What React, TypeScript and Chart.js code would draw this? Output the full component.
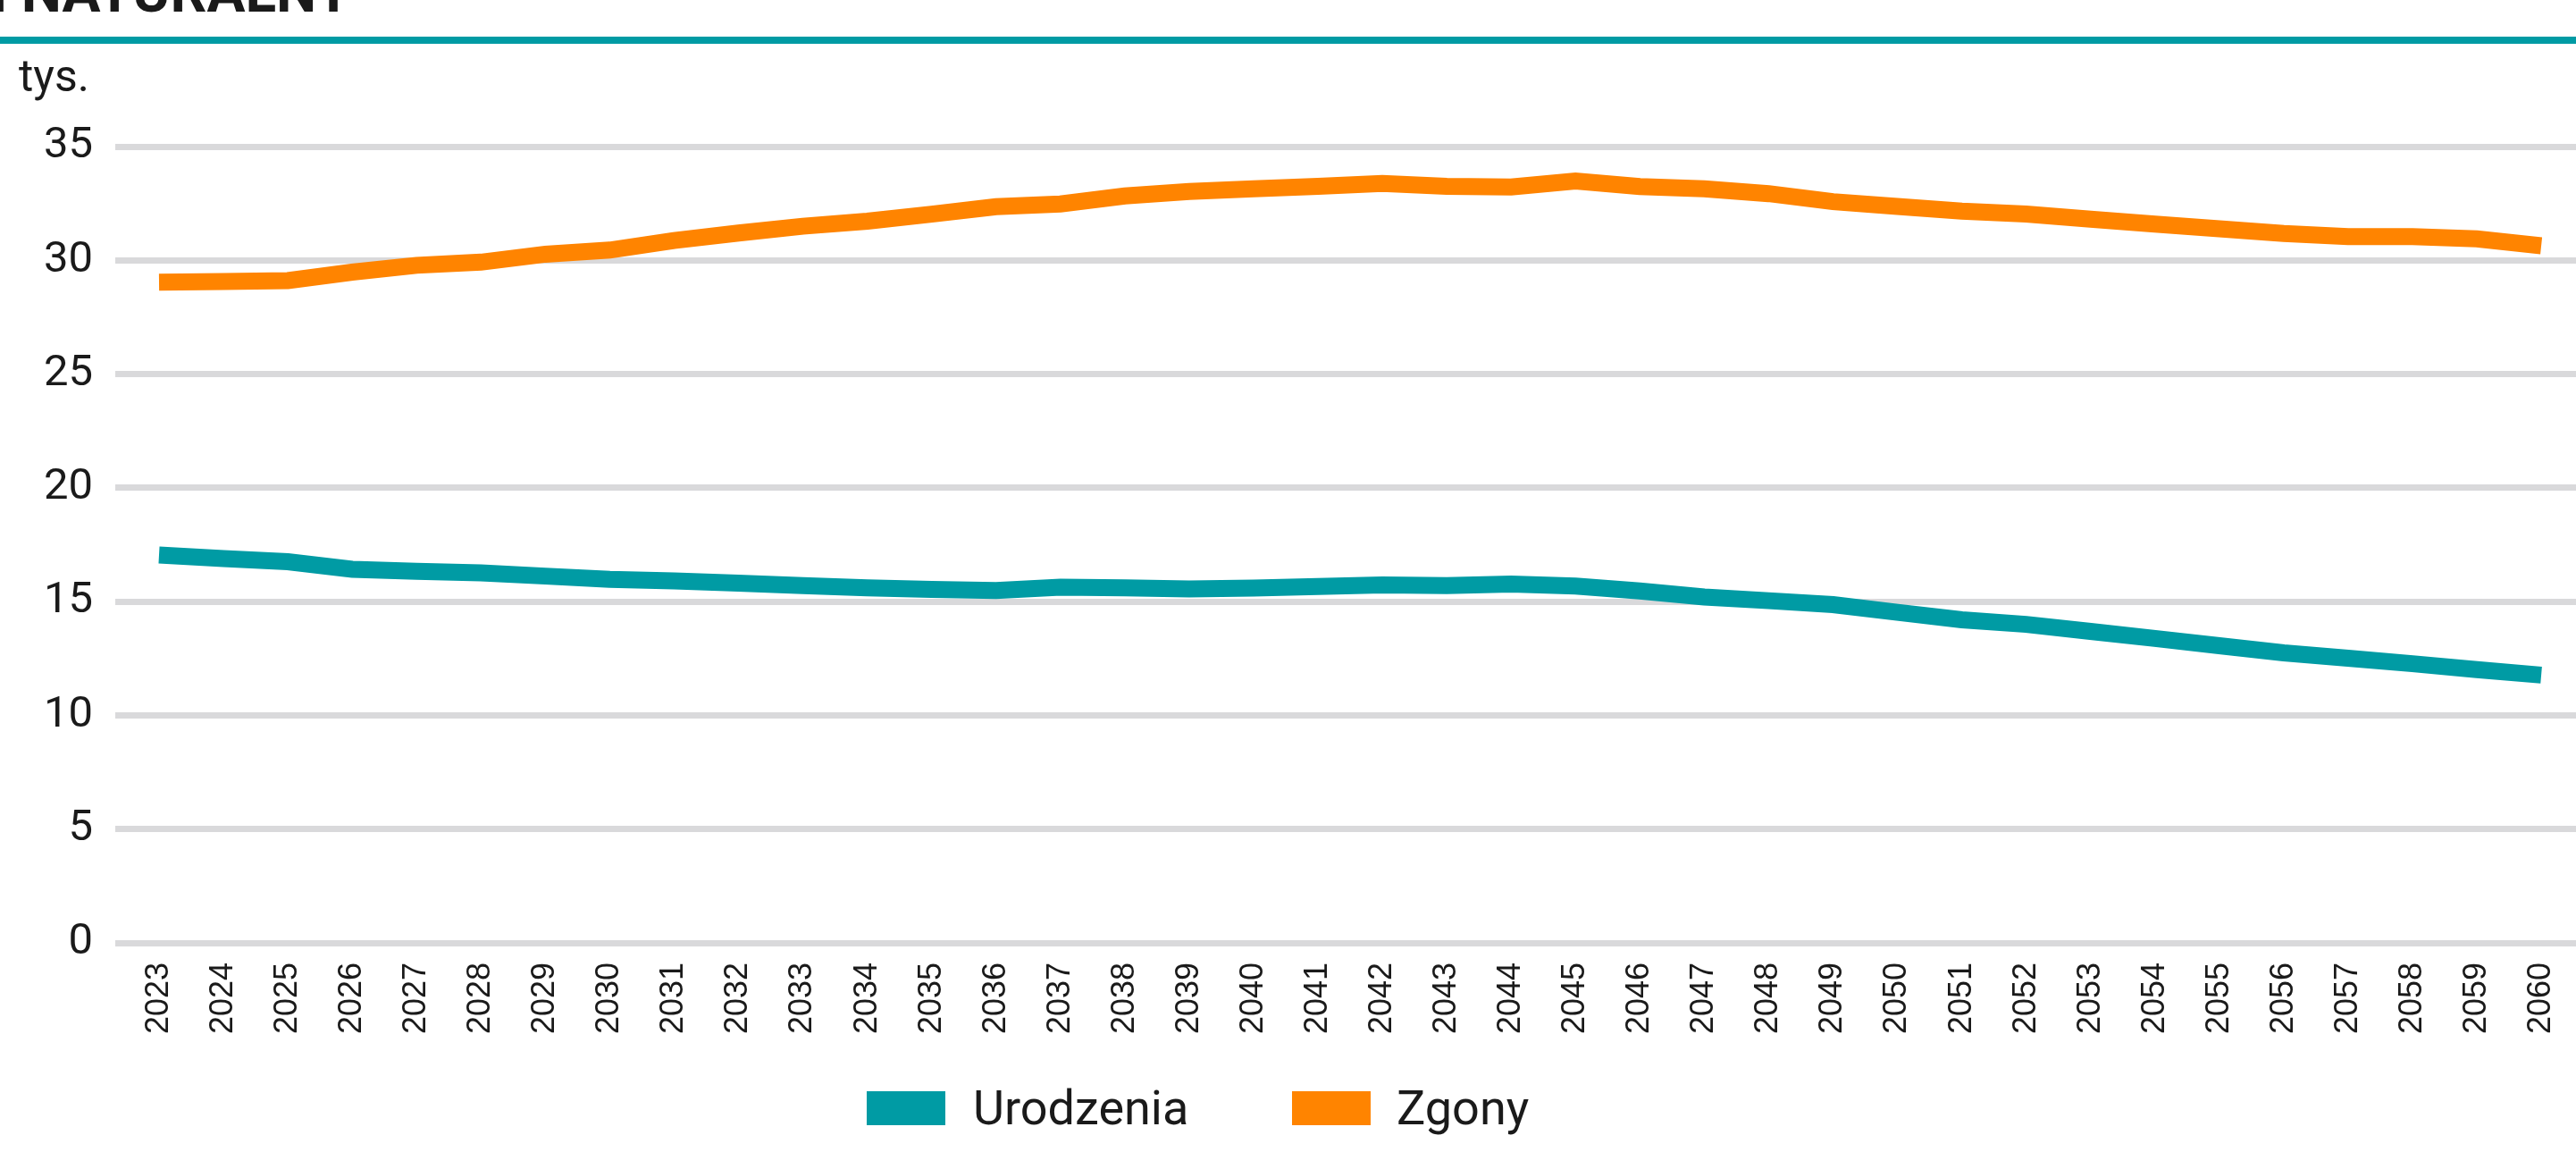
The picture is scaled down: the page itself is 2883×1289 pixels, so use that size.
import { useEffect, useRef } from 'react';
import { Chart, registerables } from 'chart.js';

Chart.register(...registerables);

const years = [
  2023, 2024, 2025, 2026, 2027, 2028, 2029, 2030, 2031, 2032,
  2033, 2034, 2035, 2036, 2037, 2038, 2039, 2040, 2041, 2042,
  2043, 2044, 2045, 2046, 2047, 2048, 2049, 2050, 2051, 2052,
  2053, 2054, 2055, 2056, 2057, 2058, 2059, 2060,
];

// Urodzenia (births), thousands
const births = [
  17.05, 16.89, 16.75, 16.42, 16.33, 16.26, 16.12, 15.98, 15.91, 15.81,
  15.70, 15.60, 15.54, 15.49, 15.63, 15.60, 15.56, 15.59, 15.66, 15.73,
  15.70, 15.77, 15.68, 15.47, 15.20, 15.04, 14.87, 14.53, 14.20, 14.00,
  13.69, 13.38, 13.06, 12.75, 12.51, 12.27, 12.01, 11.77,
];

// Zgony (deaths), thousands
const deaths = [
  29.04, 29.07, 29.11, 29.48, 29.78, 29.92, 30.27, 30.45, 30.87, 31.20,
  31.50, 31.72, 32.03, 32.36, 32.48, 32.83, 33.03, 33.14, 33.25, 33.38,
  33.25, 33.22, 33.49, 33.24, 33.14, 32.93, 32.58, 32.37, 32.16, 32.03,
  31.81, 31.59, 31.39, 31.18, 31.04, 31.04, 30.94, 30.64,
];

const yTicks = [0, 5, 10, 15, 20, 25, 30, 35];
const seriesNames = ['Urodzenia', 'Zgony'];
const seriesColors = ['#009ba4', '#ff8400'];
const titleText = 'RUCH NATURALNY';
const unitText = 'tys.';

const legendBoxLeft = [970, 1446];
const legendTextLeft = [1089, 1563];

export default function App() {
  const ref = useRef<HTMLCanvasElement | null>(null);

  useEffect(() => {
    document.body.style.margin = '0';
    document.body.style.overflow = 'hidden';
    const canvas = ref.current;
    if (!canvas) return;
    const series = [births, deaths];
    const chart = new Chart(canvas, {
      type: 'line',
      data: {
        datasets: series.map((vals, si) => ({
          label: seriesNames[si],
          data: years.map((x, i) => ({ x, y: vals[i] })),
          borderColor: seriesColors[si],
          backgroundColor: seriesColors[si],
          borderWidth: 19,
          pointRadius: 0,
          pointHoverRadius: 0,
          tension: 0,
          fill: false,
          borderCapStyle: 'butt',
          borderJoinStyle: 'miter',
        })),
      },
      options: {
        responsive: false,
        animation: false,
        devicePixelRatio: 1,
        layout: { padding: { top: 164, left: 0, right: 0, bottom: 0 } },
        plugins: {
          legend: { display: false },
          tooltip: { enabled: false },
          title: { display: false },
        },
        scales: {
          x: {
            type: 'linear',
            min: 2022.32,
            max: 2060.54,
            afterBuildTicks: (s: any) => {
              s.ticks = years.map((v) => ({ value: v }));
            },
            afterFit: (s: any) => {
              s.height = 125;
              s.paddingLeft = 0;
              s.paddingRight = 0;
            },
            ticks: {
              autoSkip: false,
              minRotation: 90,
              maxRotation: 90,
              padding: 22,
              color: '#1a1a1a',
              font: { family: 'Liberation Sans', size: 36 },
              callback: (v: any) => String(v),
            },
            grid: { display: false, drawTicks: false },
            border: { display: false },
          },
          y: {
            min: 0,
            max: 35,
            afterBuildTicks: (s: any) => {
              s.ticks = yTicks.map((v) => ({ value: v }));
            },
            afterFit: (s: any) => {
              s.width = 129;
            },
            ticks: {
              padding: 25,
              color: '#1a1a1a',
              font: { family: 'Roboto', size: 49 },
            },
            grid: { color: '#d9d9db', lineWidth: 7, drawTicks: false },
            border: { display: false },
          },
        },
      },
    });
    return () => chart.destroy();
  }, []);

  return (
    <div
      style={{
        position: 'absolute',
        left: 0,
        top: 0,
        width: 2883,
        height: 1289,
        overflow: 'hidden',
        background: '#ffffff',
      }}
    >
      <div
        style={{
          position: 'absolute',
          right: 2883 - 393,
          top: -40,
          fontFamily: 'Roboto',
          fontWeight: 700,
          fontSize: 64,
          lineHeight: 1,
          whiteSpace: 'nowrap',
          color: '#1a1a1a',
        }}
      >
        {titleText}
      </div>
      <div
        style={{
          position: 'absolute',
          left: 0,
          top: 41,
          width: 2883,
          height: 8,
          background: '#009ba4',
        }}
      />
      <div
        style={{
          position: 'absolute',
          left: 21,
          top: 60,
          fontFamily: 'Roboto',
          fontSize: 50,
          lineHeight: 1,
          color: '#1a1a1a',
          whiteSpace: 'nowrap',
        }}
      >
        {unitText}
      </div>
      <canvas
        ref={ref}
        width={2883}
        height={1180}
        style={{ position: 'absolute', left: 0, top: 0, width: 2883, height: 1180 }}
      />
      {seriesNames.map((name, i) => (
        <div key={name}>
          <div
            style={{
              position: 'absolute',
              left: legendBoxLeft[i],
              top: 1221,
              width: 88,
              height: 38,
              background: seriesColors[i],
            }}
          />
          <div
            style={{
              position: 'absolute',
              left: legendTextLeft[i],
              top: 1213,
              fontFamily: 'Roboto',
              fontSize: 54,
              lineHeight: 1,
              color: '#1a1a1a',
              whiteSpace: 'nowrap',
            }}
          >
            {name}
          </div>
        </div>
      ))}
    </div>
  );
}
